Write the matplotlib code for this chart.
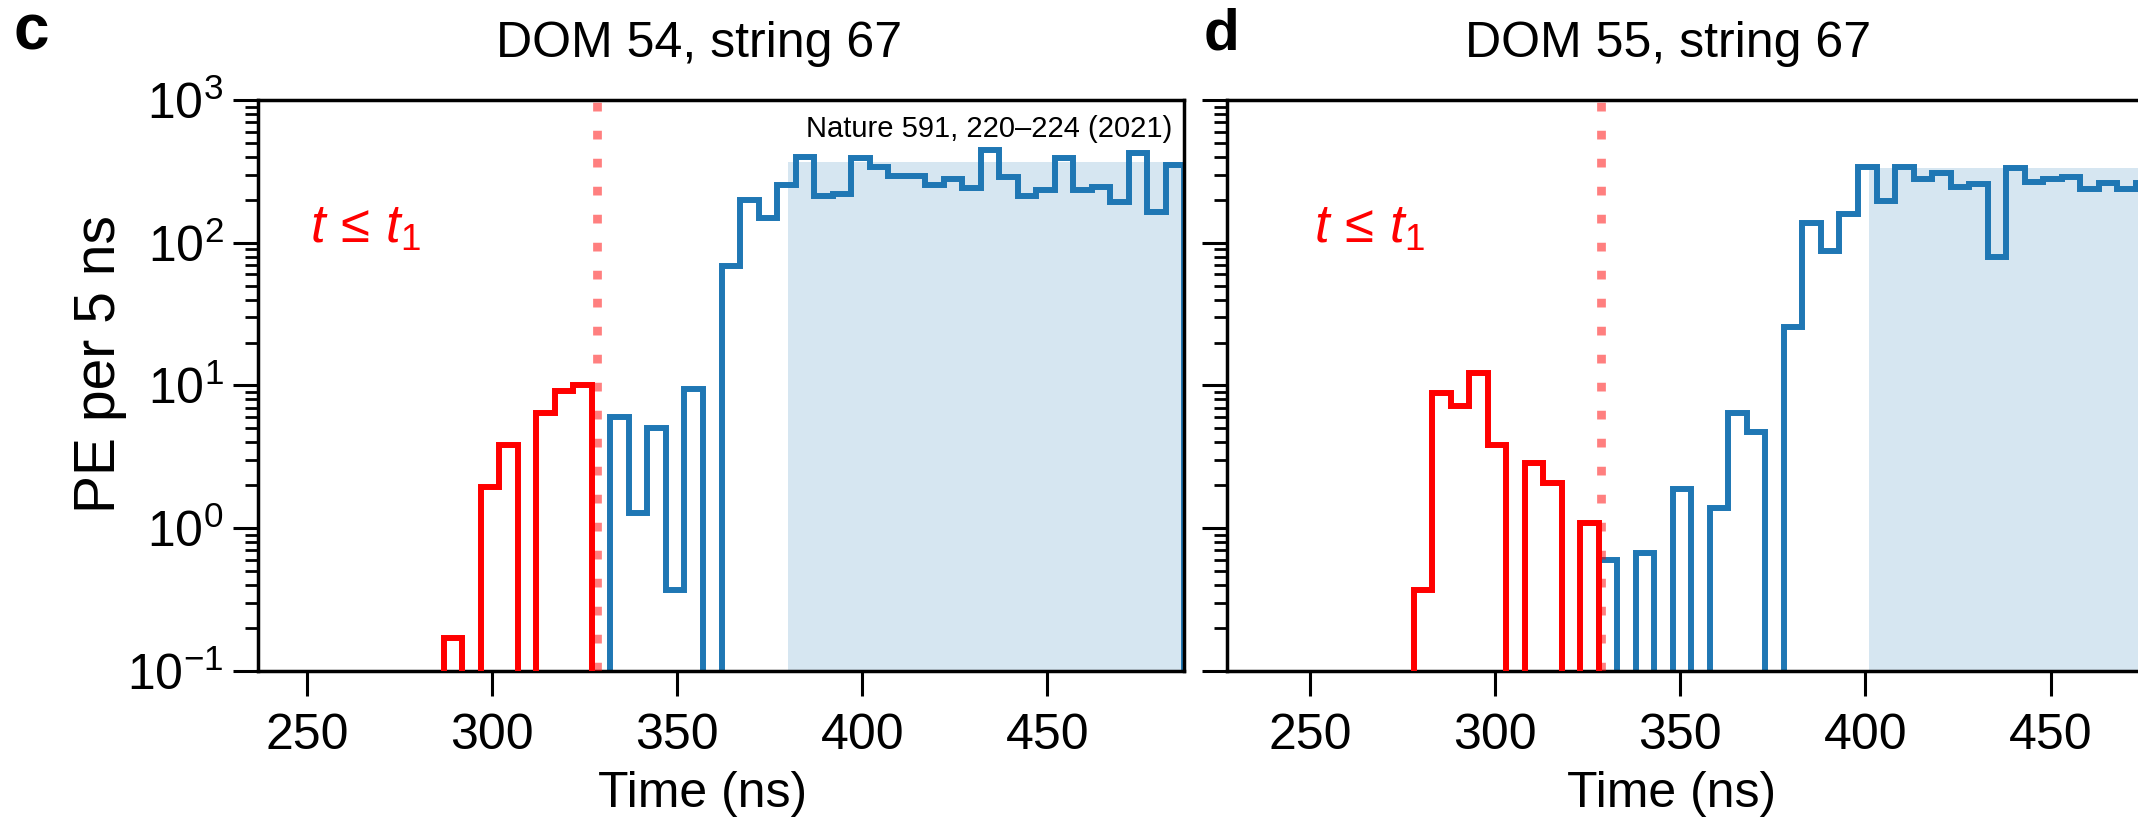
import numpy as np
import matplotlib
matplotlib.use("Agg")
import matplotlib.pyplot as plt

plt.rcParams["font.family"] = ["Liberation Sans", "DejaVu Sans"]
plt.rcParams["mathtext.fontset"] = "custom"
plt.rcParams["mathtext.rm"] = "Liberation Sans"
plt.rcParams["mathtext.it"] = "Liberation Sans:italic"
plt.rcParams["mathtext.bf"] = "Liberation Sans:bold"

BIN = 5  # ns per bin
TIME_TICKS = [250, 300, 350, 400, 450]

# panel c: DOM 54, string 67
c_title = "DOM 54, string 67"
c_xlim = (236.9, 486.9)
c_red_start = 287
c_red = [0.17, 0, 1.95, 3.8, 0, 6.4, 9.1, 10.1]
c_blue_start = 332
c_blue = [6.0, 1.27, 5.0, 0.37, 9.4, 0, 69, 200, 148, 254, 401, 212, 219,
          391, 338, 294, 294, 254, 278, 241, 447, 287, 212, 234, 391, 234,
          244, 194, 424, 165, 351]
c_t1 = 328.5
c_shade_start = 380
c_shade_level = 370

# panel d: DOM 55, string 67
d_title = "DOM 55, string 67"
d_xlim = (227.6, 477.6)
d_red_start = 278
d_red = [0.37, 8.9, 7.2, 12.2, 3.8, 0, 2.86, 2.07, 0, 1.08]
d_blue_start = 328
d_blue = [0.60, 0, 0.675, 0, 1.89, 0, 1.38, 6.4, 4.7, 0, 25.8, 138, 88, 159,
          341, 197, 338, 278, 306, 247, 258, 80, 332, 268, 278, 287, 237,
          261, 237, 261]
d_t1 = 328.6
d_shade_start = 401
d_shade_level = 332

BLUE = "#1f77b4"
RED = "#ff0000"


def bin_edges(start, vals):
    return start + BIN * np.arange(len(vals) + 1)


def draw_panel(ax, xlim, red_start, red, blue_start, blue, t1,
               shade_start, shade_level, title):
    ax.set_yscale("log")
    ax.set_ylim(0.1, 1000)
    ax.set_xlim(*xlim)

    ax.fill_between([shade_start, xlim[1] + 10], 0.1, shade_level,
                    color=BLUE, alpha=0.18, lw=0, zorder=1)
    ax.stairs(blue, bin_edges(blue_start, blue), color=BLUE, lw=4.3, zorder=2)
    ax.stairs(red, bin_edges(red_start, red), color=RED, lw=4.3, zorder=3)
    ax.axvline(t1, color=RED, alpha=0.5, lw=6.3, linestyle=(0, (1.0, 2.2)),
               zorder=4)

    ax.text(251, 100, r"$t\,\leq\,t_1$", color=RED, fontsize=38,
            ha="left", va="baseline")
    ax.text(0.476, 1.0758, title, transform=ax.transAxes, fontsize=36,
            ha="center", va="baseline")

    ax.set_xticks(TIME_TICKS)
    ax.set_xlabel("Time (ns)", fontsize=36)
    ax.xaxis.set_label_coords(0.48, -0.175)

    for s in ax.spines.values():
        s.set_linewidth(2.5)
    ax.tick_params(axis="both", which="major", direction="out", length=18,
                   width=2.2, labelsize=36)
    ax.tick_params(axis="x", which="major", pad=12)
    ax.tick_params(axis="y", which="major", pad=7)
    ax.tick_params(axis="y", which="minor", direction="out", length=9.4,
                   width=2.0)


fig = plt.figure(figsize=(21.38, 8.25), dpi=100)
ax_c = fig.add_axes([0.1208, 0.1867, 0.4330, 0.6921])
ax_d = fig.add_axes([0.5739, 0.1867, 0.4330, 0.6921], sharey=ax_c)

draw_panel(ax_c, c_xlim, c_red_start, c_red, c_blue_start, c_blue, c_t1,
           c_shade_start, c_shade_level, c_title)
draw_panel(ax_d, d_xlim, d_red_start, d_red, d_blue_start, d_blue, d_t1,
           d_shade_start, d_shade_level, d_title)

ax_c.set_ylabel("PE per 5 ns", fontsize=41)
ax_c.yaxis.set_label_coords(-0.142, 0.538)
ax_d.tick_params(axis="y", which="both", labelleft=False)

ax_c.text(0.987, 0.936, "Nature 591, 220\u2013224 (2021)",
          transform=ax_c.transAxes, fontsize=21, ha="right", va="baseline")

fig.text(13 / 2138, 1 - 50 / 825, "c", fontsize=46, fontweight="bold",
         ha="left", va="baseline")
fig.text(1204 / 2138, 1 - 50 / 825, "d", fontsize=42, fontweight="bold",
         ha="left", va="baseline")

fig.savefig("out.png", dpi=100)
